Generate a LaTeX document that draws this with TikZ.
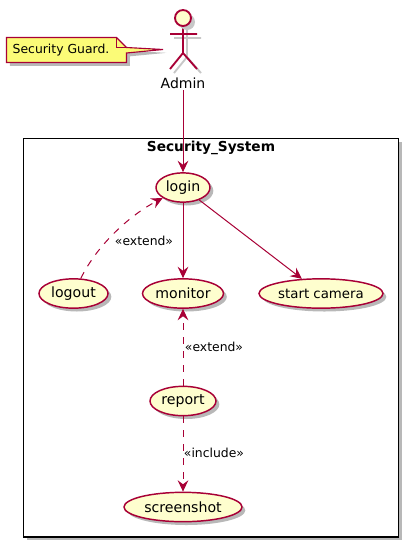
\documentclass[tikz,border=0pt]{standalone}
\usepackage{fontspec}
\setmainfont{DejaVu Sans}
\usetikzlibrary{arrows.meta, shapes.geometric, shadows}

\definecolor{umlline}{HTML}{A80036}
\definecolor{umlfill}{HTML}{FEFECE}
\definecolor{notefill}{HTML}{FBFB77}

\tikzset{
    softshadow/.style={drop shadow={shadow xshift=2.5pt, shadow yshift=-2.5pt, fill=black, opacity=0.28}},
    usecase/.style={ellipse, draw=umlline, fill=umlfill, line width=1.1pt, inner sep=0pt, minimum height=22pt, softshadow, font=\fontsize{10.6pt}{12pt}\selectfont},
    lbl/.style={font=\fontsize{9.3pt}{11pt}\selectfont, inner sep=0pt},
    conn/.style={draw=umlline, line width=0.75pt, -{Stealth[length=8.5pt, width=8pt, inset=3pt]}},
    dashconn/.style={conn, dash pattern=on 5.25pt off 5.25pt}
}

\begin{document}
\begin{tikzpicture}[x=0.75pt, y=-0.75pt]
\useasboundingbox (0,0) rectangle (409,547);

% System boundary
\draw[black, line width=1.2pt, fill=white, softshadow] (23.5,138.5) rectangle (398.5,537);
\node[inner sep=0pt, font=\bfseries\fontsize{10.3pt}{12pt}\selectfont] (systitle) at (211,148) {Security\_System};

% Actor, shadow first
\foreach \s/\c in {4/black!22, 0/umlline} {
    \draw[\c, line width=1.4pt, shift={(\s,\s)}] (183,26) -- (183,53) (170,34) -- (197,34) (170,69) -- (183,53) -- (197,69);
}
\fill[black!22] (187,22) circle (8);
\draw[umlline, line width=1.4pt, fill=umlfill] (183,18) circle (8);
\node[font=\fontsize{10.5pt}{12pt}\selectfont, inner sep=1pt] (adminlbl) at (183,83) {Admin};

% Note
\draw[umlline, line width=0.85pt, fill=notefill, softshadow] (6.5,37.5) -- (116.5,37.5) -- (126.5,47.5) -- (163,49.5) -- (126.5,53) -- (126.5,62.5) -- (6.5,62.5) -- cycle;
\draw[umlline, line width=0.85pt] (116.5,37.5) -- (116.5,47.5) -- (126.5,47.5);
\node[lbl] (notetext) at (61,50.5) {Security Guard.};

% Use cases
\node[usecase, minimum width=40.5pt] (login) at (183,187.5) {login};
\node[usecase, minimum width=51.75pt] (logout) at (73.5,293.5) {logout};
\node[usecase, minimum width=60.75pt] (monitor) at (183,293.5) {monitor};
\node[usecase, minimum width=93pt, font=\fontsize{10pt}{12pt}\selectfont] (startcam) at (321,293.5) {start camera};
\node[usecase, minimum width=49.5pt] (report) at (183,401) {report};
\node[usecase, minimum width=88.5pt] (screenshot) at (183,507) {screenshot};

% Connectors
\draw[conn] (adminlbl) -- (login);
\draw[conn] (login) -- (monitor);
\draw[conn] (login) -- (startcam);
\draw[dashconn] (logout) .. controls (97,245) and (130,215) .. (login);
\draw[dashconn] (report) -- (monitor);
\draw[dashconn] (report) -- (screenshot);

% Labels
\node[lbl] (extendone) at (144,241) {«extend»};
\node[lbl] (extendtwo) at (214,347) {«extend»};
\node[lbl] (includeone) at (214,453) {«include»};

\end{tikzpicture}
\end{document}
